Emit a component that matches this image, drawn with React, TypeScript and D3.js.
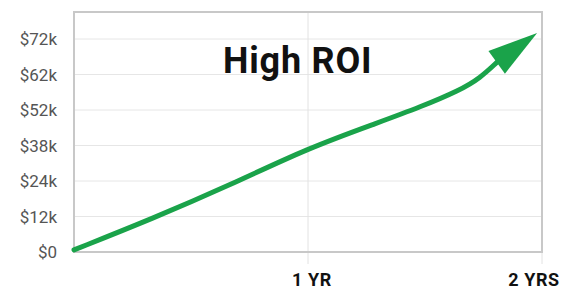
import React from "react";
import * as d3 from "d3";

const yTickLabels = ["$0", "$12k", "$24k", "$38k", "$52k", "$62k", "$72k"];
const yTickValues = [0, 12, 24, 38, 52, 62, 72];
const xTickLabels = ["1 YR", "2 YRS"];
const xTickValues = [12, 24];
const months = [0, 4, 8, 12, 15.7, 17.74, 19.8, 20.82, 21.7];
const valuesK = [0.7, 11.2, 22.6, 37.0, 47.3, 52.8, 57.6, 61.0, 65.5];
const arrowTipMonth = 23.75;
const arrowTipValue = 73.7;
const title = "High ROI";

export default function App() {
  const W = 568, H = 289;
  const left = 74, right = 542, top = 12, bottom = 252;
  const x = d3.scaleLinear().domain([0, 24]).range([left, right]);
  const yPoint = d3.scalePoint<string>().domain(yTickLabels).range([bottom, 39]);
  const y = d3
    .scaleLinear()
    .domain(yTickValues)
    .range(yTickLabels.map((l) => yPoint(l) as number));

  const pts: [number, number][] = months.map((m, i) => [x(m), y(valuesK[i])]);
  const line = d3
    .line<[number, number]>()
    .x((d) => d[0])
    .y((d) => d[1])
    .curve(d3.curveBasis);

  const base = pts[pts.length - 1];
  const tip: [number, number] = [x(arrowTipMonth), y(arrowTipValue)];
  const dx = tip[0] - base[0], dy = tip[1] - base[1];
  const len = Math.hypot(dx, dy);
  const ux = dx / len, uy = dy / len;
  const headLen = 50, halfW = 14;
  const bx = tip[0] - ux * headLen, by = tip[1] - uy * headLen;
  const c1 = [bx - uy * halfW, by + ux * halfW];
  const c2 = [bx + uy * halfW, by - ux * halfW];
  const green = "#1aa34a";

  return (
    <svg width={W} height={H} style={{ position: "absolute", left: 0, top: 0, background: "#fff" }}>
      {yTickLabels.map((l, i) =>
        i === 0 ? null : (
          <line key={l} x1={left} x2={right} y1={yPoint(l)} y2={yPoint(l)} stroke="#e6e6e6" strokeWidth={1} />
        )
      )}
      {xTickValues.map((v) => (
        <line key={v} x1={x(v)} x2={x(v)} y1={top} y2={264} stroke="#e2e2e2" strokeWidth={1} />
      ))}
      <rect x={left} y={top} width={right - left} height={bottom - top} fill="none" stroke="#c8c8c8" strokeWidth={2} />
      {yTickLabels.map((l) => (
        <text
          key={l}
          x={57}
          y={yPoint(l)}
          dy="0.36em"
          textAnchor="end"
          fontFamily="Roboto, sans-serif"
          fontSize={17}
          fill="#555"
        >
          {l}
        </text>
      ))}
      {xTickLabels.map((l, i) => (
        <text
          key={l}
          x={x(xTickValues[i]) + (i === 0 ? 4 : -8)}
          y={286}
          textAnchor="middle"
          fontFamily="Roboto, sans-serif"
          fontWeight="bold"
          fontSize={18}
          letterSpacing={0.6}
          fill="#111"
        >
          {l}
        </text>
      ))}
      <text
        x={223}
        y={73}
        fontFamily="Roboto, sans-serif"
        fontWeight="bold"
        fontSize={36}
        letterSpacing={0.8}
        fill="#111"
      >
        {title}
      </text>
      <path d={line(pts) || ""} fill="none" stroke={green} strokeWidth={5} strokeLinecap="round" />
      <path d={`M${tip[0]},${tip[1]}L${c1[0]},${c1[1]}L${c2[0]},${c2[1]}Z`} fill={green} />
    </svg>
  );
}
